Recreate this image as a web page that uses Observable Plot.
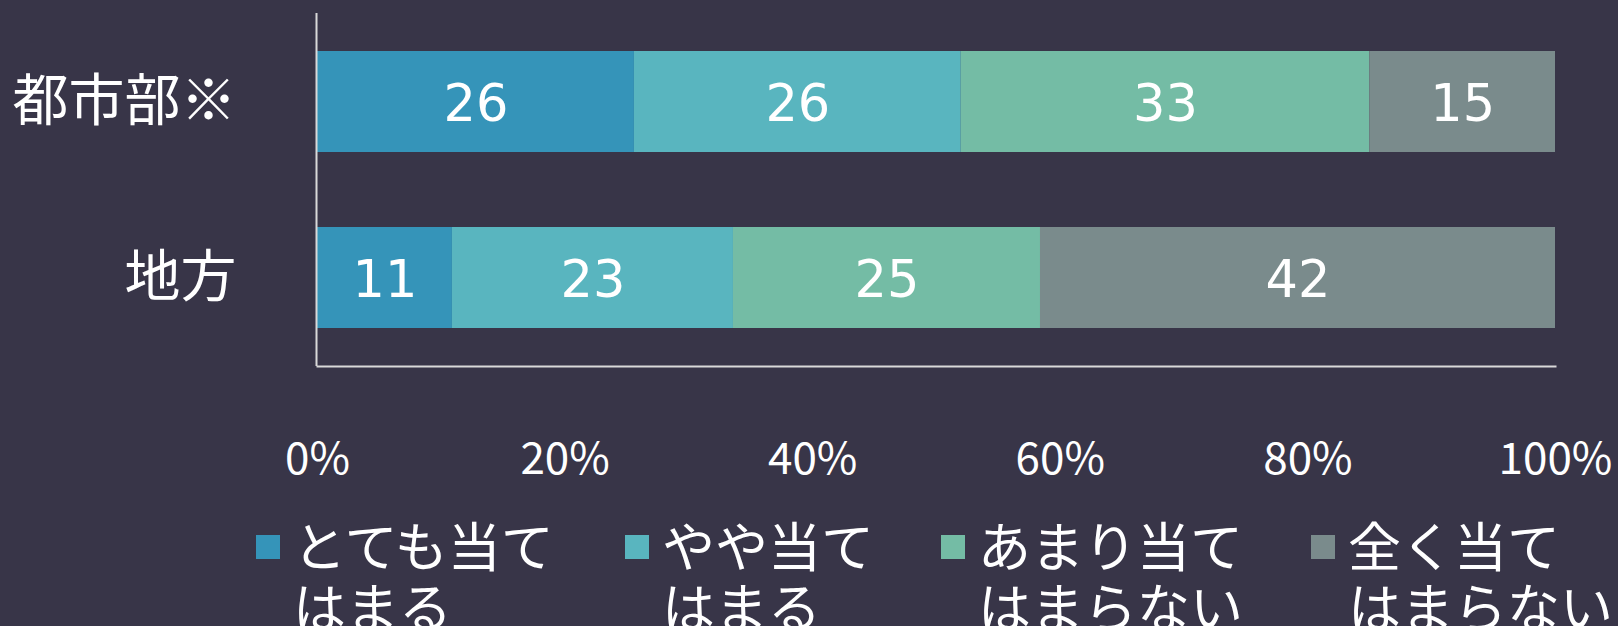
<!DOCTYPE html>
<html>
<head>
<meta charset="utf-8">
<script src="https://cdn.jsdelivr.net/npm/d3@7"></script>
<script src="https://cdn.jsdelivr.net/npm/@observablehq/plot@0.6"></script>
<style>
  html, body { margin: 0; padding: 0; background: #383548; overflow: hidden; }
  #chart svg { display: block; }
  .legend { position: relative; height: 122px;
            font-family: "Noto Sans CJK JP", sans-serif; font-size: 53px; line-height: 61px; color: #ffffff; }
  .legend .item { position: absolute; top: 0; display: flex; align-items: flex-start; }
  .legend .sw { width: 24px; height: 24px; margin-top: 21px; margin-right: 13px; flex: none; }
  .legend .lbl { white-space: pre; }
</style>
</head>
<body>
<div id="chart"></div>
<script>
// ---- data ----
const regions = ["都市部※", "地方"];
const series = ["とても当てはまる", "やや当てはまる", "あまり当てはまらない", "全く当てはまらない"];
const urbanValues = [25.6, 26.4, 33.0, 15.0];
const ruralValues = [10.9, 22.7, 24.8, 41.6];
const urbanLabels = ["26", "26", "33", "15"];
const ruralLabels = ["11", "23", "25", "42"];
const xTicks = [0, 20, 40, 60, 80, 100];
const colors = ["#3594b9", "#59b5bf", "#74bca5", "#7a8b8c"];

// ---- table ----
const rows = [];
series.forEach((s, i) => rows.push({region: regions[0], series: s, value: urbanValues[i], label: urbanLabels[i]}));
series.forEach((s, i) => rows.push({region: regions[1], series: s, value: ruralValues[i], label: ruralLabels[i]}));

const bg = "#383548";
const axisColor = "#d9d9d9";

const chart = Plot.plot({
  width: 1618,
  height: 514,
  marginLeft: 317,
  marginRight: 63,
  marginTop: 13,
  marginBottom: 148,
  style: {background: bg, color: "#ffffff", fontFamily: "Noto Sans CJK JP, sans-serif"},
  x: {domain: [0, 100], label: null},
  y: {domain: regions, label: null, paddingInner: 0.425, paddingOuter: 0.21},
  color: {domain: series, range: colors},
  marks: [
    Plot.barX(rows, {x: "value", y: "region", fill: "series"}),
    Plot.text(rows, Plot.stackX({x: "value", y: "region", text: "label", fill: "#ffffff",
      fontSize: 51, fontFamily: "DejaVu Sans, Verdana, sans-serif", dy: 3})),
    Plot.ruleX([0], {stroke: axisColor, strokeWidth: 2, dx: -1}),
    Plot.frame({anchor: "bottom", stroke: axisColor, strokeWidth: 2}),
    Plot.axisX({ticks: xTicks, tickFormat: d => d + "%", tickSize: 0, tickPadding: 76,
      fontSize: 44, fontFamily: "Noto Sans CJK JP, sans-serif", fill: "#ffffff", label: null}),
    Plot.axisY({tickSize: 0, tickPadding: 81, fontSize: 56,
      fontFamily: "Noto Sans CJK JP, sans-serif", fill: "#ffffff", label: null})
  ]
});
document.getElementById("chart").appendChild(chart);

// ---- legend (HTML, below the SVG) ----
const legendLeft = [256, 625, 941, 1311];
const legend = document.createElement("div");
legend.className = "legend";
series.forEach((s, i) => {
  const item = document.createElement("div");
  item.className = "item";
  item.style.left = legendLeft[i] + "px";
  const sw = document.createElement("div");
  sw.className = "sw";
  sw.style.background = colors[i];
  const lbl = document.createElement("div");
  lbl.className = "lbl";
  lbl.textContent = s.replace("当て", "当て\n");
  item.appendChild(sw);
  item.appendChild(lbl);
  legend.appendChild(item);
});
document.body.appendChild(legend);
</script>
</body>
</html>
